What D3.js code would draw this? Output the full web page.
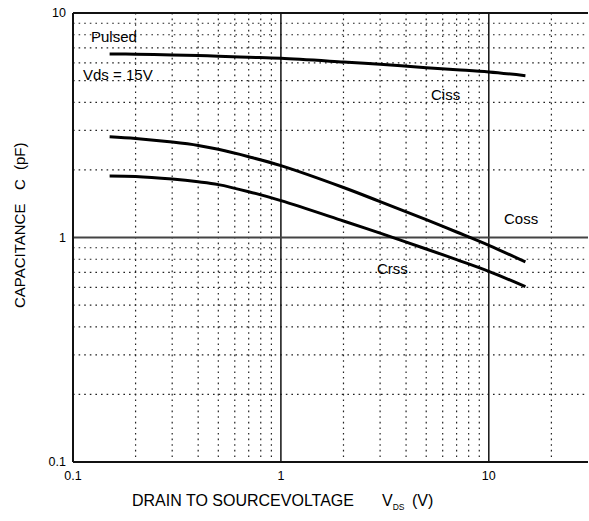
<!DOCTYPE html>
<html>
<head>
<meta charset="utf-8">
<script src="https://cdn.jsdelivr.net/npm/d3@7"></script>
<style>
  body { margin: 0; background: #fff; }
  svg { display: block; font-family: "Liberation Sans", Arial, sans-serif; }
</style>
</head>
<body>
<svg id="chart" width="589" height="521"></svg>
<script>
// 容量特性 (Vds依存)
const vds  = [0.15, 0.2, 0.3, 0.4, 0.5, 0.7, 1, 2, 3, 5, 7, 10, 15];
const ciss = [6.57, 6.55, 6.5, 6.46, 6.42, 6.35, 6.28, 6.05, 5.91, 5.71, 5.59, 5.46, 5.26];
const coss = [2.81, 2.76, 2.66, 2.57, 2.47, 2.29, 2.09, 1.67, 1.445, 1.2, 1.058, 0.923, 0.778];
const crss = [1.88, 1.87, 1.82, 1.77, 1.72, 1.6, 1.46, 1.185, 1.046, 0.889, 0.797, 0.707, 0.604];

const xTicks = [0.1, 1, 10];
const yTicks = [0.1, 1, 10];
const xMajor = [1, 10];
const yMajor = [1];

const seriesLabels = [
  { text: 'Ciss', x: 431, y: 100 },
  { text: 'Coss', x: 504, y: 224 },
  { text: 'Crss', x: 377, y: 274 }
];

const svg = d3.select('#chart');
const x = d3.scaleLog().domain([0.1, 30]).range([73, 588]);
const y = d3.scaleLog().domain([0.1, 10]).range([462, 13]);

// 各デケードの2〜9の補助線
const minorOf = domain => {
  const out = [];
  [0.1, 1, 10].forEach(d => {
    for (let k = 2; k <= 9; k++) {
      const v = +(k * d).toPrecision(3);
      if (v > domain[0] && v < domain[1]) out.push(v);
    }
  });
  return out;
};

const grid = svg.append('g');
grid.selectAll('line.vminor').data(minorOf(x.domain())).join('line')
  .attr('x1', d => x(d)).attr('x2', d => x(d))
  .attr('y1', y(10)).attr('y2', y(0.1))
  .attr('stroke', '#222').attr('stroke-width', 1.2)
  .attr('stroke-dasharray', '1.6,4');
grid.selectAll('line.hminor').data(minorOf(y.domain())).join('line')
  .attr('x1', x(0.1)).attr('x2', x(30))
  .attr('y1', d => y(d)).attr('y2', d => y(d))
  .attr('stroke', '#222').attr('stroke-width', 1.2)
  .attr('stroke-dasharray', '1.6,4');

grid.selectAll('line.vmajor').data(xMajor).join('line')
  .attr('x1', d => x(d)).attr('x2', d => x(d))
  .attr('y1', y(10)).attr('y2', y(0.1))
  .attr('stroke', '#111').attr('stroke-width', 1.5);
grid.selectAll('line.hmajor').data(yMajor).join('line')
  .attr('x1', x(0.1)).attr('x2', x(30))
  .attr('y1', d => y(d)).attr('y2', d => y(d))
  .attr('stroke', '#444').attr('stroke-width', 2);

// 枠線 (上・左・下)
const frame = svg.append('g').attr('stroke', '#111').attr('stroke-width', 2);
frame.append('line').attr('x1', x(0.1)).attr('x2', x(30)).attr('y1', y(10)).attr('y2', y(10));
frame.append('line').attr('x1', x(0.1)).attr('x2', x(0.1)).attr('y1', y(10)).attr('y2', y(0.1));
frame.append('line').attr('x1', x(0.1)).attr('x2', x(30)).attr('y1', y(0.1)).attr('y2', y(0.1));

const line = d3.line()
  .x(d => x(d[0]))
  .y(d => y(d[1]))
  .curve(d3.curveCatmullRom.alpha(0.5));

[ciss, coss, crss].forEach(values => {
  svg.append('path')
    .datum(vds.map((v, i) => [v, values[i]]))
    .attr('d', line)
    .attr('fill', 'none')
    .attr('stroke', '#000')
    .attr('stroke-width', 3);
});

const fmt = d => (d < 1 ? '0.1' : String(d));

svg.append('g').selectAll('text').data(xTicks).join('text')
  .attr('x', d => x(d)).attr('y', 480)
  .attr('text-anchor', 'middle')
  .attr('font-size', 12.5)
  .text(fmt);

svg.append('g').selectAll('text').data(yTicks).join('text')
  .attr('x', 66).attr('y', d => y(d))
  .attr('dy', '0.35em')
  .attr('text-anchor', 'end')
  .attr('font-size', 12.5)
  .text(fmt);

svg.append('g').selectAll('text').data(seriesLabels).join('text')
  .attr('x', d => d.x).attr('y', d => d.y)
  .attr('font-size', 15)
  .text(d => d.text);

svg.append('text').attr('x', 91).attr('y', 41.5).attr('font-size', 15).text('Pulsed');
svg.append('text').attr('x', 83).attr('y', 80).attr('font-size', 15).text('Vds = 15V');

// 軸タイトル
const xt = svg.append('text').attr('x', 132).attr('y', 506).attr('font-size', 16);
xt.append('tspan').text('DRAIN TO SOURCEVOLTAGE');
xt.append('tspan').attr('x', 382).text('V');
xt.append('tspan').attr('dy', 4).attr('font-size', 8.5).text('DS');
xt.append('tspan').attr('x', 412).attr('dy', -4).text('(V)');

const yt = svg.append('text')
  .attr('transform', 'translate(25,308) rotate(-90)')
  .attr('font-size', 15);
yt.append('tspan').text('CAPACITANCE');
yt.append('tspan').attr('x', 118).text('C');
yt.append('tspan').attr('x', 138).text('(pF)');
</script>
</body>
</html>
